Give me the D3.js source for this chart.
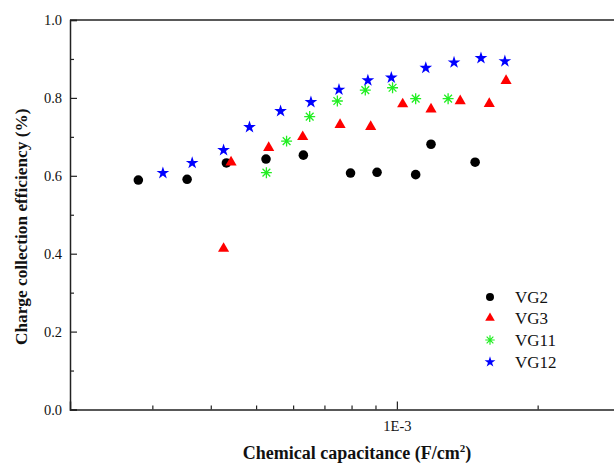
<!DOCTYPE html>
<html>
<head>
<meta charset="utf-8">
<script src="https://cdn.jsdelivr.net/npm/d3@7/dist/d3.min.js"></script>
<style>
  html, body { margin: 0; padding: 0; background: #fff; }
  svg { display: block; }
</style>
</head>
<body>
<svg id="chart" width="614" height="463"></svg>
<script>
// ---- data ----
const seriesNames = ["VG2", "VG3", "VG11", "VG12"];

const vg2X = [2.80e-4, 3.56e-4, 4.32e-4, 5.25e-4, 6.31e-4, 7.96e-4, 9.07e-4, 1.097e-3, 1.183e-3, 1.470e-3];
const vg2Y = [0.589, 0.591, 0.633, 0.643, 0.653, 0.607, 0.609, 0.603, 0.681, 0.635];

const vg3X = [4.42e-4, 4.26e-4, 5.32e-4, 6.29e-4, 7.56e-4, 8.79e-4, 1.029e-3, 1.183e-3, 1.366e-3, 1.576e-3, 1.712e-3];
const vg3Y = [0.635, 0.413, 0.672, 0.700, 0.731, 0.726, 0.784, 0.771, 0.792, 0.785, 0.844];

const vg11X = [5.26e-4, 5.81e-4, 6.51e-4, 7.46e-4, 8.56e-4, 9.79e-4, 1.097e-3, 1.287e-3];
const vg11Y = [0.608, 0.689, 0.752, 0.792, 0.820, 0.826, 0.798, 0.798];

const vg12X = [3.16e-4, 3.65e-4, 4.26e-4, 4.84e-4, 5.64e-4, 6.55e-4, 7.52e-4, 8.67e-4, 9.73e-4, 1.153e-3, 1.325e-3, 1.513e-3, 1.702e-3];
const vg12Y = [0.607, 0.633, 0.666, 0.725, 0.766, 0.789, 0.821, 0.845, 0.852, 0.877, 0.891, 0.902, 0.894];

const xDomain = [2e-4, 3e-3];
const yDomain = [0, 1];
const xMajorTicks = [1e-3];
const xMajorLabels = ["1E-3"];
const xMinorTicks = [3e-4, 4e-4, 5e-4, 6e-4, 7e-4, 8e-4, 9e-4, 2e-3];
const yMajorTicks = [0, 0.2, 0.4, 0.6, 0.8, 1.0];
const yMinorTicks = [0.1, 0.3, 0.5, 0.7, 0.9];

// ---- layout ----
const FONT = "Liberation Serif";
const svg = d3.select("#chart");
const mLeft = 70, mRight = 620, mTop = 20, mBottom = 409.5;

const x = d3.scaleLog().domain(xDomain).range([mLeft, mRight]);
const y = d3.scaleLinear().domain(yDomain).range([mBottom, mTop]);

const axisColor = "#222";

// top border
svg.append("line")
  .attr("x1", mLeft).attr("x2", mRight).attr("y1", mTop).attr("y2", mTop)
  .attr("stroke", axisColor).attr("stroke-width", 1.5);

// Y axis
svg.append("g").attr("transform", `translate(${mLeft},0)`)
  .call(d3.axisLeft(y).tickValues(yMajorTicks).tickFormat(d3.format(".1f")).tickSize(-7).tickPadding(8));
svg.append("g").attr("transform", `translate(${mLeft},0)`)
  .call(d3.axisLeft(y).tickValues(yMinorTicks).tickFormat("").tickSize(-4))
  .select(".domain").remove();

// X axis
svg.append("g").attr("transform", `translate(0,${mBottom})`)
  .call(d3.axisBottom(x).tickValues(xMajorTicks).tickFormat((d, i) => xMajorLabels[i]).tickSize(-8).tickPadding(11));
svg.append("g").attr("transform", `translate(0,${mBottom})`)
  .call(d3.axisBottom(x).tickValues(xMinorTicks).tickFormat("").tickSize(-4))
  .select(".domain").remove();

svg.selectAll("g").attr("font-family", FONT);
svg.selectAll(".domain").attr("stroke", axisColor).attr("stroke-width", 1.5);
svg.selectAll(".tick line").attr("stroke", axisColor).attr("stroke-width", 1.2);
svg.selectAll(".tick text")
  .attr("font-family", FONT)
  .attr("font-size", 14.5).attr("fill", "#111");

// axis titles
svg.append("text")
  .attr("transform", `translate(27,${(mTop + mBottom) / 2 + 12}) rotate(-90)`)
  .attr("text-anchor", "middle")
  .attr("font-family", FONT)
  .attr("font-size", 17.3).attr("font-weight", "bold").attr("fill", "#111")
  .text("Charge collection efficiency (%)");

const xt = svg.append("text")
  .attr("x", 357).attr("y", 459)
  .attr("text-anchor", "middle")
  .attr("font-family", FONT)
  .attr("font-size", 18).attr("font-weight", "bold").attr("fill", "#111");
xt.append("tspan").text("Chemical capacitance (F/cm");
xt.append("tspan").attr("dy", -7).attr("font-size", 11).text("2");
xt.append("tspan").attr("dy", 7).text(")");

// ---- markers ----
const asterisk = {
  draw(ctx, size) {
    const r = Math.sqrt(size) / 2;
    for (let k = 0; k < 4; k++) {
      const a = k * Math.PI / 4;
      const dx = r * Math.cos(a), dy = r * Math.sin(a);
      ctx.moveTo(-dx, -dy);
      ctx.lineTo(dx, dy);
    }
  }
};

const series = [
  { name: seriesNames[0], xs: vg2X, ys: vg2Y, type: d3.symbolCircle, size: 72, fill: "#000", stroke: "none", lsize: 50 },
  { name: seriesNames[1], xs: vg3X, ys: vg3Y, type: d3.symbolTriangle, size: 54, fill: "#ff0000", stroke: "none", lsize: 40 },
  { name: seriesNames[2], xs: vg11X, ys: vg11Y, type: asterisk, size: 120, fill: "none", stroke: "#22ee22", lsize: 90 },
  { name: seriesNames[3], xs: vg12X, ys: vg12Y, type: d3.symbolStar, size: 50, fill: "#0000ff", stroke: "none", lsize: 36 }
];

series.forEach(s => {
  const sym = d3.symbol().type(s.type).size(s.size);
  svg.append("g").selectAll("path")
    .data(s.xs.map((xv, i) => [xv, s.ys[i]]))
    .join("path")
    .attr("transform", d => `translate(${x(d[0])},${y(d[1])})`)
    .attr("d", sym)
    .attr("fill", s.fill)
    .attr("stroke", s.stroke)
    .attr("stroke-width", s.stroke === "none" ? 0 : 1.3);
});

// ---- legend ----
const legendRowY = [297, 318, 340, 362];
const legend = svg.append("g");
series.forEach((s, i) => {
  legend.append("path")
    .attr("transform", `translate(490,${legendRowY[i]})`)
    .attr("d", d3.symbol().type(s.type).size(s.lsize))
    .attr("fill", s.fill)
    .attr("stroke", s.stroke)
    .attr("stroke-width", s.stroke === "none" ? 0 : 1.2);
  legend.append("text")
    .attr("x", 515).attr("y", legendRowY[i])
    .attr("dy", "0.35em")
    .attr("font-family", FONT)
    .attr("font-size", 17).attr("fill", "#111")
    .text(s.name);
});
</script>
</body>
</html>
